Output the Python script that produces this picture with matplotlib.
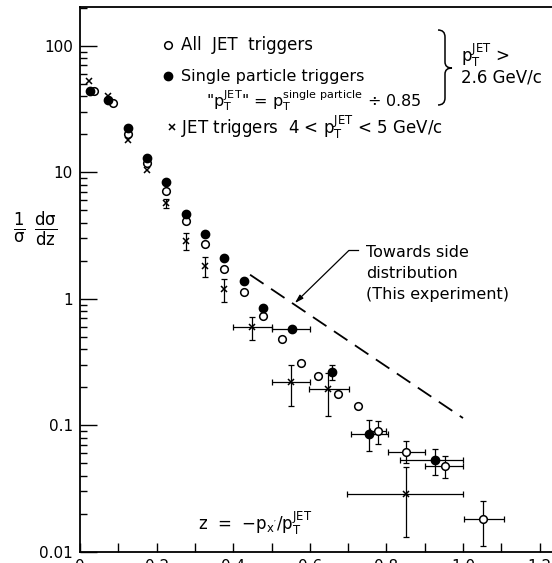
import numpy as np
import matplotlib
matplotlib.use("Agg")
from matplotlib import pyplot as plt
from matplotlib.path import Path
from matplotlib.patches import PathPatch

plt.rcParams['font.family'] = ['DejaVu Sans']
plt.rcParams['mathtext.default'] = 'regular'

# ---- data ----
# All JET triggers (open circles)
z_all = [0.037, 0.087, 0.125, 0.175, 0.225, 0.277, 0.326, 0.376, 0.428, 0.478,
         0.528, 0.577, 0.622, 0.674, 0.727, 0.779, 0.851, 0.954, 1.053]
y_all = [44, 35.2, 20.2, 11.8, 7.18, 4.14, 2.72, 1.73, 1.14, 0.725,
         0.483, 0.313, 0.246, 0.178, 0.143, 0.0905, 0.0614, 0.0472, 0.0181]
ylo_all = [np.nan] * 15 + [0.0714, 0.0503, 0.0383, 0.0110]
yhi_all = [np.nan] * 15 + [0.109, 0.0754, 0.0574, 0.0250]
xlo_all = [np.nan] * 15 + [0.758, 0.803, 0.902, 1.003]
xhi_all = [np.nan] * 15 + [0.800, 0.901, 1.000, 1.107]

# Single particle triggers (filled circles)
z_sp = [0.025, 0.074, 0.125, 0.175, 0.225, 0.277, 0.326, 0.376, 0.428, 0.478,
        0.554, 0.657, 0.755, 0.927]
y_sp = [44.1, 37, 22.4, 13.1, 8.46, 4.70, 3.26, 2.12, 1.38, 0.853,
        0.576, 0.266, 0.0852, 0.0527]
ylo_sp = [np.nan] * 10 + [np.nan, 0.229, 0.0628, 0.0401]
yhi_sp = [np.nan] * 10 + [np.nan, 0.301, 0.110, 0.0649]
xlo_sp = [np.nan] * 10 + [0.50, np.nan, 0.707, 0.836]
xhi_sp = [np.nan] * 10 + [0.60, np.nan, 0.803, 1.000]

# JET triggers 4 < pT < 5 GeV/c (crosses)
z_jet = [0.023, 0.072, 0.125, 0.175, 0.225, 0.277, 0.326, 0.376, 0.45, 0.55, 0.647, 0.851]
y_jet = [53.2, 40.3, 18.1, 10.5, 5.71, 2.84, 1.83, 1.20, 0.597, 0.220, 0.193, 0.0286]
ylo_jet = [np.nan] * 4 + [5.27, 2.44, 1.50, 0.95, 0.468, 0.141, 0.119, 0.0130]
yhi_jet = [np.nan] * 4 + [6.17, 3.31, 2.15, 1.44, 0.717, 0.297, 0.259, 0.0464]
xlo_jet = [np.nan] * 8 + [0.40, 0.50, 0.598, 0.698]
xhi_jet = [np.nan] * 8 + [0.50, 0.60, 0.702, 1.000]

# towards side distribution (dashed)
z_side = [0.444, 1.0]
y_side = [1.55, 0.114]

xticks_major = [0, 0.2, 0.4, 0.6, 0.8, 1.0, 1.2]
xtick_labels = ['0', '0.2', '0.4', '0.6', '0.8', '1.0', '1.2']
yticks = [0.01, 0.1, 1, 10, 100]
ytick_labels = ['0.01', '0.1', '1', '10', '100']

W, H = 552, 563


def P(px, py):
    # pixel (from top-left) -> figure fraction
    return px / W, 1 - py / H


fig = plt.figure(figsize=(W / 100, H / 100), dpi=100)
ax = fig.add_axes([80 / W, 1 - 551.7 / H, 478.75 / W, (551.7 - 7) / H])
ax.set_yscale('log')
ax.set_xlim(0, 1.25)
ax.set_ylim(0.01, 203)


def err(v, lo, hi):
    v = np.array(v, float)
    return np.vstack([v - np.array(lo, float), np.array(hi, float) - v])


eb = dict(fmt='none', ecolor='black', elinewidth=0.9, capsize=2.2, capthick=0.9)
ax.errorbar(z_all, y_all, yerr=err(y_all, ylo_all, yhi_all),
            xerr=err(z_all, xlo_all, xhi_all), **eb)
ax.errorbar(z_sp, y_sp, yerr=err(y_sp, ylo_sp, yhi_sp),
            xerr=err(z_sp, xlo_sp, xhi_sp), **eb)
ax.errorbar(z_jet, y_jet, yerr=err(y_jet, ylo_jet, yhi_jet),
            xerr=err(z_jet, xlo_jet, xhi_jet), **eb)

ax.plot(z_all, y_all, 'o', ms=5.5, mfc='white', mec='black', mew=1.1, ls='none', zorder=4)
ax.plot(z_sp, y_sp, 'o', ms=6, mfc='black', mec='black', ls='none', zorder=5)
ax.plot(z_jet, y_jet, 'x', ms=5, mec='black', mew=1.1, ls='none', zorder=5)

ax.plot(z_side, y_side, color='black', lw=1.3, dashes=(9, 5))

# arrow to dashed line
ax.plot([0.727, 0.702], [2.41, 2.41], color='black', lw=0.9)
ax.annotate('', xy=(0.561, 0.925), xytext=(0.702, 2.41),
            arrowprops=dict(arrowstyle='-|>,head_length=0.5,head_width=0.15',
                            color='black', lw=0.9, shrinkA=0, shrinkB=0))
ax.text(0.748, 2.33, 'Towards side', fontsize=11.5, va='center')
ax.text(0.748, 1.59, 'distribution', fontsize=11.5, va='center')
ax.text(0.748, 1.08, '(This experiment)', fontsize=11.5, va='center')

# axes styling
ax.spines['right'].set_visible(False)
for s in ['left', 'bottom', 'top']:
    ax.spines[s].set_linewidth(1.3)
ax.set_xticks(xticks_major)
ax.set_xticklabels(xtick_labels)
ax.set_xticks(np.arange(0.1, 1.25, 0.2), minor=True)
ax.tick_params(axis='x', which='both', direction='in', length=6.5, width=1,
               labelsize=11, pad=5, top=False)
ax.set_yticks(yticks)
ax.set_yticklabels(ytick_labels)
ax.tick_params(axis='y', which='major', direction='in', length=12, width=1,
               labelsize=11, pad=5, right=False)
ax.tick_params(axis='y', which='minor', direction='in', length=5, width=1, right=False)

# y label
fig.text(*P(35, 229), r'$\frac{1}{\sigma}\ \frac{d\sigma}{dz}$', fontsize=17,
         ha='center', va='center')

# z definition
fig.text(*P(198, 523), r"z  =  $-p_{x'}/p_T^{JET}$", fontsize=12, va='center')

# legend
fig.add_artist(plt.Line2D([P(168, 45)[0]], [P(168, 45)[1]], marker='o', ms=5.5,
                          mfc='white', mec='black', mew=1.1, ls='none'))
fig.text(*P(181, 45), 'All  JET  triggers', fontsize=12, va='center')
fig.add_artist(plt.Line2D([P(168, 76)[0]], [P(168, 76)[1]], marker='o', ms=6,
                          mfc='black', mec='black', ls='none'))
fig.text(*P(181, 76), 'Single particle triggers', fontsize=11.5, va='center')
fig.text(*P(206, 101), r'"$p_T^{JET}$" = $p_T^{single\ particle}$ ÷ 0.85', fontsize=11.5,
         va='center')
fig.add_artist(plt.Line2D([P(172, 127)[0]], [P(172, 127)[1]], marker='x', ms=5,
                          mec='black', mew=1.1, ls='none'))
fig.text(*P(181, 127), r'JET triggers  4 < $p_T^{JET}$ < 5 GeV/c', fontsize=12,
         va='center')

# curly brace
pts = [(438, 30), (445, 30), (445, 37), (445, 62), (445, 68), (452, 68),
       (445, 68), (445, 74), (445, 98), (445, 105), (438, 105)]
codes = [Path.MOVETO, Path.CURVE3, Path.CURVE3, Path.LINETO, Path.CURVE3, Path.CURVE3,
         Path.CURVE3, Path.CURVE3, Path.LINETO, Path.CURVE3, Path.CURVE3]
brace = Path([P(x, y) for x, y in pts], codes)
fig.add_artist(PathPatch(brace, transform=fig.transFigure, fill=False, lw=1.1, color='black'))
fig.text(*P(461, 55), r'$p_T^{JET}$ >', fontsize=12, va='center')
fig.text(*P(461, 78), '2.6 GeV/c', fontsize=12, va='center')

plt.savefig('out.png', dpi=100)
